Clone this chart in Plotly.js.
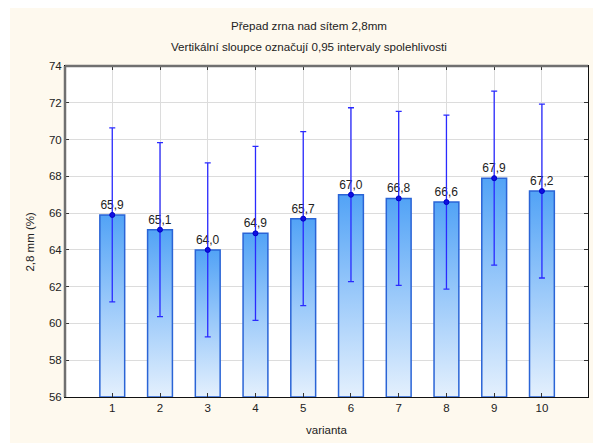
<!DOCTYPE html>
<html>
<head>
<meta charset="utf-8">
<script src="https://cdn.plot.ly/plotly-3.0.1.min.js"></script>
<style>
  html, body { margin: 0; padding: 0; background: #ffffff; }
  #chart { position: absolute; left: 10px; top: 8px; width: 583px; height: 435px; }
</style>
</head>
<body>
<div id="chart"></div>
<script>
// ---- data ----
var categories = [1, 2, 3, 4, 5, 6, 7, 8, 9, 10];
var means = [65.9, 65.1, 64.0, 64.9, 65.7, 67.0, 66.8, 66.6, 67.9, 67.2];
var ciHalf = [4.73, 4.73, 4.73, 4.73, 4.73, 4.73, 4.73, 4.73, 4.73, 4.73];
var yTicks = [56, 58, 60, 62, 64, 66, 68, 70, 72, 74];
var titleLine1 = 'Přepad zrna nad sítem 2,8mm';
var titleLine2 = 'Vertikální sloupce označují 0,95 intervaly spolehlivosti';
var xTitle = 'varianta';
var yTitle = '2,8 mm (%)';

var font = 'Liberation Sans, Arial, sans-serif';
var yBase = 56;

var barTrace = {
  type: 'bar',
  x: categories,
  y: means.map(function (v) { return v - yBase; }),
  base: yBase,
  width: 0.52,
  marker: { color: '#8cc2f9', line: { color: '#2a64d6', width: 1.5 } },
  texttemplate: means.map(function (v) { return v.toFixed(1).replace('.', ','); }),
  textposition: 'outside',
  cliponaxis: false,
  textfont: { family: font, size: 12, color: '#222222' },
  hoverinfo: 'skip'
};

var meanTrace = {
  type: 'scatter',
  mode: 'markers',
  x: categories,
  y: means,
  marker: { size: 5, color: '#1010e0', line: { color: '#0000c8', width: 1 } },
  error_y: { type: 'data', array: ciHalf, visible: true, color: '#2a2aff', thickness: 1.3, width: 3 },
  hoverinfo: 'skip'
};

var layout = {
  width: 583,
  height: 435,
  margin: { l: 55, r: 5, t: 58, b: 46 },
  paper_bgcolor: '#fef9ee',
  plot_bgcolor: '#ffffff',
  showlegend: false,
  separators: ', ',
  font: { family: font, size: 11, color: '#222222' },
  xaxis: {
    range: [0.01, 10.965],
    tickmode: 'array',
    tickvals: categories,
    ticktext: categories.map(String),
    showgrid: true,
    gridcolor: '#dcdcdc',
    gridwidth: 1,
    zeroline: false,
    showline: true,
    linecolor: '#111111',
    linewidth: 1,
    mirror: 'ticks',
    ticks: 'inside',
    ticklen: 4,
    tickcolor: '#333333',
    tickfont: { family: font, size: 11.5, color: '#222222' },
    title: { text: xTitle, font: { family: font, size: 11.5, color: '#222222' }, standoff: 13 }
  },
  yaxis: {
    range: [56, 74],
    tickmode: 'array',
    tickvals: yTicks,
    ticktext: yTicks.map(String),
    showgrid: true,
    gridcolor: '#dcdcdc',
    gridwidth: 1,
    zeroline: false,
    showline: true,
    linecolor: '#111111',
    linewidth: 1,
    mirror: 'ticks',
    ticks: 'inside',
    ticklen: 4,
    tickcolor: '#333333',
    tickfont: { family: font, size: 11.5, color: '#222222' }
  },
  shapes: [
    { type: 'line', xref: 'paper', yref: 'paper', x0: 0, x1: 0, y0: 0, y1: 1, line: { color: '#707070', width: 2.5 } },
    { type: 'line', xref: 'paper', yref: 'paper', x0: 0, x1: 1, y0: 1, y1: 1, line: { color: '#707070', width: 2.5 } }
  ],
  annotations: [
    { text: titleLine1, xref: 'paper', yref: 'paper', x: 0.4656, y: 1 + (58 - 17) / 331, xanchor: 'center', yanchor: 'middle', showarrow: false, font: { family: font, size: 11.6, color: '#222222' } },
    { text: titleLine2, xref: 'paper', yref: 'paper', x: 0.4656, y: 1 + (58 - 38) / 331, xanchor: 'center', yanchor: 'middle', showarrow: false, font: { family: font, size: 11.6, color: '#222222' } },
    { text: yTitle, xref: 'paper', yref: 'paper', x: -0.066, y: 0.471, xanchor: 'center', yanchor: 'middle', textangle: -90, showarrow: false, font: { family: font, size: 11.5, color: '#222222' } }
  ]
};

Plotly.newPlot('chart', [barTrace, meanTrace], layout, { staticPlot: true, displayModeBar: false }).then(function (gd) {
  var svg = gd.querySelector('.main-svg');
  var defs = svg.querySelector('defs');
  var ns = 'http://www.w3.org/2000/svg';
  var grad = document.createElementNS(ns, 'linearGradient');
  grad.setAttribute('id', 'barGrad');
  grad.setAttribute('x1', '0'); grad.setAttribute('y1', '0');
  grad.setAttribute('x2', '0'); grad.setAttribute('y2', '1');
  [['0', '#52a3f6'], ['0.5', '#9ccafa'], ['1', '#e4f0fd']].forEach(function (s) {
    var st = document.createElementNS(ns, 'stop');
    st.setAttribute('offset', s[0]);
    st.setAttribute('stop-color', s[1]);
    grad.appendChild(st);
  });
  defs.appendChild(grad);
  gd.querySelectorAll('.barlayer .point path').forEach(function (p) {
    p.style.fill = 'url(#barGrad)';
  });
});
</script>
</body>
</html>
